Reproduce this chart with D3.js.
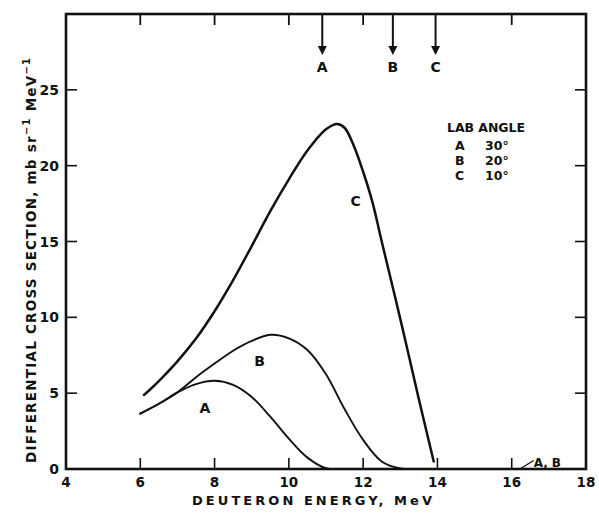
<!DOCTYPE html>
<html>
<head>
<meta charset="utf-8">
<script src="https://cdn.jsdelivr.net/npm/d3@7"></script>
<style>
  html, body { margin: 0; padding: 0; background: #fff; }
  svg { display: block; }
  text { font-family: "DejaVu Sans", "Liberation Sans", sans-serif; fill: #111; }
</style>
</head>
<body>
<svg id="chart" width="599" height="514"></svg>
<script>
// Deuteron spectra, differential cross section vs. energy, three lab angles
const energyA = [6.0, 6.5, 7.0, 7.5, 8.0, 8.5, 9.0, 9.5, 10.0, 10.5, 11.0, 11.5, 13.0, 16.3];
const sigmaA  = [3.65, 4.3, 5.05, 5.6, 5.82, 5.55, 4.75, 3.45, 2.0, 0.75, 0.05, 0, 0, 0];

const energyB = [6.0, 6.5, 7.0, 7.5, 8.0, 8.5, 9.0, 9.5, 10.0, 10.5, 11.0, 11.5, 12.0, 12.5, 13.0, 13.5, 16.3];
const sigmaB  = [3.65, 4.3, 5.05, 6.05, 6.95, 7.8, 8.45, 8.85, 8.62, 7.85, 6.25, 3.95, 1.92, 0.5, 0.04, 0, 0];

const energyC = [6.1, 6.5, 7.0, 7.5, 8.0, 8.5, 9.0, 9.5, 10.0, 10.5, 11.0, 11.3, 11.5, 11.75, 12.0, 12.25, 12.5, 13.0, 13.5, 13.9];
const sigmaC  = [4.88, 5.8, 7.1, 8.6, 10.4, 12.45, 14.7, 17.0, 19.1, 21.0, 22.4, 22.75, 22.5, 21.3, 19.6, 17.6, 15.0, 9.9, 4.6, 0.5];

// Kinematic end-point markers along the top edge
const markerNames  = ["A", "B", "C"];
const markerEnergy = [10.9, 12.8, 13.95];

// Legend rows
const legendTitle  = "LAB ANGLE";
const legendNames  = ["A", "B", "C"];
const legendAngles = ["30°", "20°", "10°"];

// Curve labels (placed in data coordinates)
const curveLabels = [
  { name: "A", x: 7.74, y: 4.0 },
  { name: "B", x: 9.21, y: 7.1 },
  { name: "C", x: 11.8, y: 17.67 }
];

const xTicks = [4, 6, 8, 10, 12, 14, 16, 18];
const yTicks = [0, 5, 10, 15, 20, 25];
const topTicks = [6, 8, 10, 12, 16];
const rightTicks = [5, 10, 15, 20, 25];

const margin = { left: 66, top: 14, right: 13, bottom: 45 };
const W = 599, H = 514;

const svg = d3.select("#chart");
const x = d3.scaleLinear().domain([4, 18]).range([margin.left, W - margin.right]);
const y = d3.scaleLinear().domain([0, 30]).range([H - margin.bottom, margin.top]);

const x0 = x(4), x1 = x(18), y0 = y(0), y1 = y(30);

// frame
svg.append("rect")
  .attr("x", x0).attr("y", y1)
  .attr("width", x1 - x0).attr("height", y0 - y1)
  .attr("fill", "none").attr("stroke", "#111").attr("stroke-width", 2.6);

const tickLen = 11;
// bottom ticks (inward)
svg.append("g").selectAll("line").data(xTicks.filter(d => d > 4 && d < 18)).join("line")
  .attr("x1", d => x(d)).attr("x2", d => x(d))
  .attr("y1", y0).attr("y2", y0 - tickLen)
  .attr("stroke", "#111").attr("stroke-width", 1.6);
// top ticks (inward)
svg.append("g").selectAll("line").data(topTicks).join("line")
  .attr("x1", d => x(d)).attr("x2", d => x(d))
  .attr("y1", y1).attr("y2", y1 + tickLen)
  .attr("stroke", "#111").attr("stroke-width", 1.8);
// left ticks (inward)
svg.append("g").selectAll("line").data(yTicks.filter(d => d > 0)).join("line")
  .attr("x1", x0).attr("x2", x0 + tickLen)
  .attr("y1", d => y(d)).attr("y2", d => y(d))
  .attr("stroke", "#111").attr("stroke-width", 1.6);
// right ticks (inward)
svg.append("g").selectAll("line").data(rightTicks).join("line")
  .attr("x1", x1).attr("x2", x1 - tickLen)
  .attr("y1", d => y(d)).attr("y2", d => y(d))
  .attr("stroke", "#111").attr("stroke-width", 1.6);

// tick labels
svg.append("g").selectAll("text").data(xTicks).join("text")
  .attr("x", d => x(d)).attr("y", y0 + 18)
  .attr("text-anchor", "middle")
  .attr("font-size", 13.5).attr("font-weight", "bold")
  .text(d => d);
svg.append("g").selectAll("text").data(yTicks).join("text")
  .attr("x", x0 - 7).attr("y", d => y(d) + 5)
  .attr("text-anchor", "end")
  .attr("font-size", 14).attr("font-weight", "bold")
  .text(d => d);

// axis titles
svg.append("text")
  .attr("x", 192).attr("y", 505)
  .attr("font-size", 13).attr("font-weight", "bold")
  .attr("textLength", 240).attr("lengthAdjust", "spacing")
  .text("DEUTERON ENERGY, MeV");

const yTitle = svg.append("text")
  .attr("transform", "translate(36,463) rotate(-90)")
  .attr("font-size", 13.5).attr("font-weight", "bold")
  .attr("textLength", 405).attr("lengthAdjust", "spacing");
yTitle.append("tspan").text("DIFFERENTIAL CROSS SECTION, mb sr");
yTitle.append("tspan").attr("dy", -6).attr("font-size", 10).text("−1");
yTitle.append("tspan").attr("dy", 6).text(" MeV");
yTitle.append("tspan").attr("dy", -6).attr("font-size", 10).text("−1");

// curves
const line = d3.line()
  .x(d => x(d[0])).y(d => y(d[1]))
  .curve(d3.curveCatmullRom.alpha(0.5));

const series = [
  { name: "A", pts: d3.zip(energyA, sigmaA), w: 1.9 },
  { name: "B", pts: d3.zip(energyB, sigmaB), w: 1.9 },
  { name: "C", pts: d3.zip(energyC, sigmaC), w: 2.5 }
];
svg.append("g").selectAll("path").data(series).join("path")
  .attr("d", d => line(d.pts))
  .attr("fill", "none").attr("stroke", "#111")
  .attr("stroke-width", d => d.w)
  .attr("stroke-linejoin", "round").attr("stroke-linecap", "round");

// curve labels
svg.append("g").selectAll("text").data(curveLabels).join("text")
  .attr("x", d => x(d.x)).attr("y", d => y(d.y) + 5)
  .attr("text-anchor", "middle")
  .attr("font-size", 14).attr("font-weight", "bold")
  .text(d => d.name);

// "A,B" note with leader to the shared zero tail
const noteX = 16.24;
svg.append("line")
  .attr("x1", x(noteX)).attr("y1", y0 - 0.5)
  .attr("x2", x(noteX) + 13).attr("y2", y0 - 8.5)
  .attr("stroke", "#111").attr("stroke-width", 1.3);
svg.append("text")
  .attr("x", x(noteX) + 13).attr("y", y0 - 2.5)
  .attr("font-size", 12).attr("font-weight", "bold")
  .text("A, B");

// end-point arrows
const arrows = svg.append("g");
markerNames.forEach((name, i) => {
  const ax = x(markerEnergy[i]);
  arrows.append("line")
    .attr("x1", ax).attr("x2", ax)
    .attr("y1", y1).attr("y2", y1 + 34)
    .attr("stroke", "#111").attr("stroke-width", 2);
  arrows.append("path")
    .attr("d", `M${ax - 4.5},${y1 + 32} L${ax + 4.5},${y1 + 32} L${ax},${y1 + 41} Z`)
    .attr("fill", "#111");
  arrows.append("text")
    .attr("x", ax).attr("y", y1 + 58)
    .attr("text-anchor", "middle")
    .attr("font-size", 14).attr("font-weight", "bold")
    .text(name);
});

// legend
const lg = svg.append("g").attr("transform", "translate(447,132)");
lg.append("text").attr("x", 0).attr("y", 0)
  .attr("font-size", 12.5).attr("font-weight", "bold")
  .attr("textLength", 78).attr("lengthAdjust", "spacing")
  .text(legendTitle);
legendNames.forEach((n, i) => {
  lg.append("text").attr("x", 8).attr("y", 18 + i * 15)
    .attr("font-size", 12.5).attr("font-weight", "bold").text(n);
  lg.append("text").attr("x", 38).attr("y", 18 + i * 15)
    .attr("font-size", 12.5).attr("font-weight", "bold").text(legendAngles[i]);
});
</script>
</body>
</html>
